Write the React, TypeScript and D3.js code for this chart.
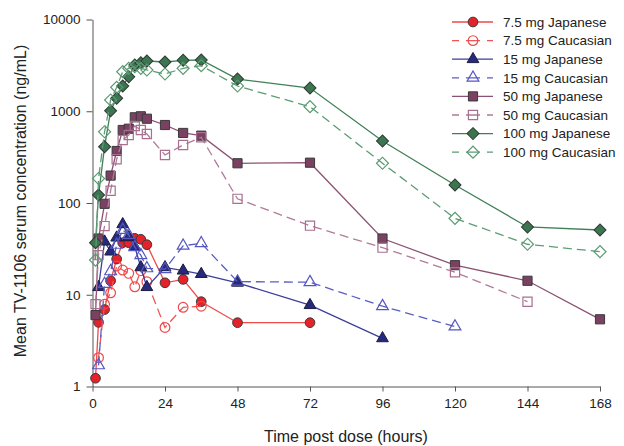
import React, { useRef, useEffect } from "react";
import * as d3 from "d3";

// sampling times (hours) and mean concentrations (ng/mL)
const hours75J = [1, 2, 4, 6, 8, 10, 12, 14, 16, 18, 24, 30, 36, 48, 72];
const conc75J = [1.23, 5.0, 6.9, 14.2, 24.5, 36.9, 36.9, 41.2, 40.2, 35.1, 13.5, 14.7, 8.4, 4.96, 4.96];

const hours75C = [2, 4, 6, 8, 10, 12, 14, 16, 18, 24, 30, 36];
const conc75C = [2.06, 7.9, 10.5, 20.6, 18.6, 17.1, 12.2, 18.3, 13.9, 4.4, 7.3, 7.5];

const hours15J = [2, 4, 6, 8, 10, 12, 14, 16, 18, 24, 30, 36, 48, 72, 96];
const conc15J = [12.1, 37.9, 29.5, 41.9, 58.6, 42.3, 33.4, 19.9, 12.1, 19.9, 18.3, 16.8, 13.5, 7.7, 3.35];

const hours15C = [2, 4, 6, 8, 10, 12, 14, 16, 18, 24, 30, 36, 48, 72, 96, 120];
const conc15C = [1.7, 13.1, 18, 35, 50.8, 44.8, 33, 27, 19.4, 19, 34.2, 36.4, 13.9, 13.7, 7.5, 4.5];

const hours50J = [1, 2, 4, 6, 8, 10, 12, 14, 16, 18, 24, 30, 36, 48, 72, 96, 120, 144, 168];
const conc50J = [6.0, 41, 98, 199, 369, 625, 645, 859, 881, 829, 708, 580, 542, 271, 275, 41, 21, 14.2, 5.4];

const hours50C = [1, 2, 4, 6, 8, 10, 12, 14, 16, 18, 24, 30, 36, 48, 72, 96, 120, 144];
const conc50C = [7.9, 27, 56, 136, 300, 486, 551, 691, 625, 565, 334, 429, 520, 111, 56.6, 32.6, 17.6, 8.4];

const hours100J = [1, 2, 4, 6, 8, 10, 12, 14, 16, 18, 24, 30, 36, 48, 72, 96, 120, 144, 168];
const conc100J = [36.9, 122, 411, 1014, 1384, 1884, 2381, 3191, 3381, 3530, 3443, 3592, 3620, 2245, 1792, 474, 157, 54.8, 50.8];

const hours100C = [1, 2, 4, 6, 8, 10, 12, 14, 16, 18, 24, 30, 36, 48, 72, 96, 120, 144, 168];
const conc100C = [23.9, 185, 598, 1326, 1823, 2700, 2937, 3060, 2937, 2817, 2547, 2937, 3140, 1884, 1121, 271, 68, 35.5, 29.5];

const xTicks = [0, 24, 48, 72, 96, 120, 144, 168];
const yTicks = [1, 10, 100, 1000, 10000];

const seriesNames = [
  "7.5 mg Japanese",
  "7.5 mg Caucasian",
  "15 mg Japanese",
  "15 mg Caucasian",
  "50 mg Japanese",
  "50 mg Caucasian",
  "100 mg Japanese",
  "100 mg Caucasian",
];

const App = () => {
  const ref = useRef<HTMLDivElement>(null);

  useEffect(() => {
    document.body.style.margin = "0";

    const width = 624;
    const height = 446;
    const font = "'Liberation Sans', Arial, sans-serif";

    const x = d3.scaleLinear().domain([0, 168]).range([92.5, 600]);
    const y = d3.scaleLog().domain([1, 10000]).range([386.5, 19.5]);

    const circle = d3.symbol().type(d3.symbolCircle).size(74);
    const tri = d3.symbol().type(d3.symbolTriangle).size(60);
    const square = d3.symbol().type(d3.symbolSquare).size(84);
    const diamond = d3.symbol().type(d3.symbolSquare).size(72);

    const styles = [
      { sym: circle, rot: 0, line: "#ee4a4a", fill: "#e5222a", stroke: "#3a3a3a", dash: null, open: false },
      { sym: circle, rot: 0, line: "#f05555", fill: "none", stroke: "#f04848", dash: "9,5", open: true },
      { sym: tri, rot: 0, line: "#3c3f98", fill: "#262a7e", stroke: "#1c1c40", dash: null, open: false },
      { sym: tri, rot: 0, line: "#5a5dc2", fill: "none", stroke: "#5557c0", dash: "9,5", open: true },
      { sym: square, rot: 0, line: "#8c5275", fill: "#7b4163", stroke: "#3a3a3a", dash: null, open: false },
      { sym: square, rot: 0, line: "#b07b98", fill: "none", stroke: "#a86f8f", dash: "9,5", open: true },
      { sym: diamond, rot: 45, line: "#3f8058", fill: "#3b7651", stroke: "#2e3a33", dash: null, open: false },
      { sym: diamond, rot: 45, line: "#5c9c75", fill: "none", stroke: "#5a9a72", dash: "9,5", open: true },
    ];

    const allSeries = [
      d3.zip(hours75J, conc75J),
      d3.zip(hours75C, conc75C),
      d3.zip(hours15J, conc15J),
      d3.zip(hours15C, conc15C),
      d3.zip(hours50J, conc50J),
      d3.zip(hours50C, conc50C),
      d3.zip(hours100J, conc100J),
      d3.zip(hours100C, conc100C),
    ];

    d3.select(ref.current).selectAll("*").remove();

    const svg = d3
      .select(ref.current)
      .append("svg")
      .attr("width", width)
      .attr("height", height)
      .style("display", "block")
      .style("background", "#fff")
      .style("font-family", font);

    // axes
    const xAxis = svg
      .append("g")
      .attr("transform", `translate(0,${y(1)})`)
      .call(d3.axisBottom(x).tickValues(xTicks).tickSize(5).tickSizeOuter(0).tickPadding(7));

    const yAxis = svg
      .append("g")
      .attr("transform", `translate(${x(0)},0)`)
      .call(
        d3
          .axisLeft(y)
          .tickValues(yTicks)
          .tickFormat(d3.format("d"))
          .tickSize(6)
          .tickSizeOuter(0)
          .tickPadding(6)
      );

    [xAxis, yAxis].forEach((g) => {
      g.select(".domain").attr("stroke", "#555");
      g.selectAll(".tick line").attr("stroke", "#555");
      g.selectAll(".tick text")
        .attr("fill", "#222")
        .style("font-size", "13.5px")
        .style("font-family", font);
    });

    svg
      .append("text")
      .attr("x", 346)
      .attr("y", 442)
      .attr("text-anchor", "middle")
      .attr("fill", "#222")
      .style("font-size", "16px")
      .text("Time post dose (hours)");

    svg
      .append("text")
      .attr("transform", `translate(26,201) rotate(-90)`)
      .attr("text-anchor", "middle")
      .attr("fill", "#222")
      .style("font-size", "16px")
      .text("Mean TV-1106 serum concentration (ng/mL)");

    const line = d3
      .line<[number, number]>()
      .x((d) => x(d[0]))
      .y((d) => y(d[1]));

    allSeries.forEach((data, i) => {
      const s = styles[i];
      const g = svg.append("g");
      g.append("path")
        .datum(data)
        .attr("fill", "none")
        .attr("stroke", s.line)
        .attr("stroke-width", 1.3)
        .attr("stroke-dasharray", s.dash)
        .attr("d", line);

      g.selectAll("path.pt")
        .data(data)
        .join("path")
        .attr("class", "pt")
        .attr("transform", (d) => `translate(${x(d[0])},${y(d[1])}) rotate(${s.rot})`)
        .attr("d", s.sym())
        .attr("fill", s.fill)
        .attr("stroke", s.stroke)
        .attr("stroke-width", s.open ? 1.2 : 1);
    });

    // legend
    const legend = svg.append("g").attr("transform", "translate(452,22)");
    seriesNames.forEach((name, i) => {
      const s = styles[i];
      const row = legend.append("g").attr("transform", `translate(0,${i * 18.6})`);
      row
        .append("line")
        .attr("x1", 0)
        .attr("x2", 41)
        .attr("stroke", s.line)
        .attr("stroke-width", 1.3)
        .attr("stroke-dasharray", s.open ? "7,7,14,7" : null);
      row
        .append("path")
        .attr("transform", `translate(21,0) rotate(${s.rot})`)
        .attr("d", s.sym())
        .attr("fill", s.fill)
        .attr("stroke", s.stroke)
        .attr("stroke-width", s.open ? 1.2 : 1);
      row
        .append("text")
        .attr("x", 51)
        .attr("dy", "0.36em")
        .attr("fill", "#222")
        .style("font-size", "13.5px")
        .text(name);
    });
  }, []);

  return <div ref={ref}></div>;
};

export default App;
